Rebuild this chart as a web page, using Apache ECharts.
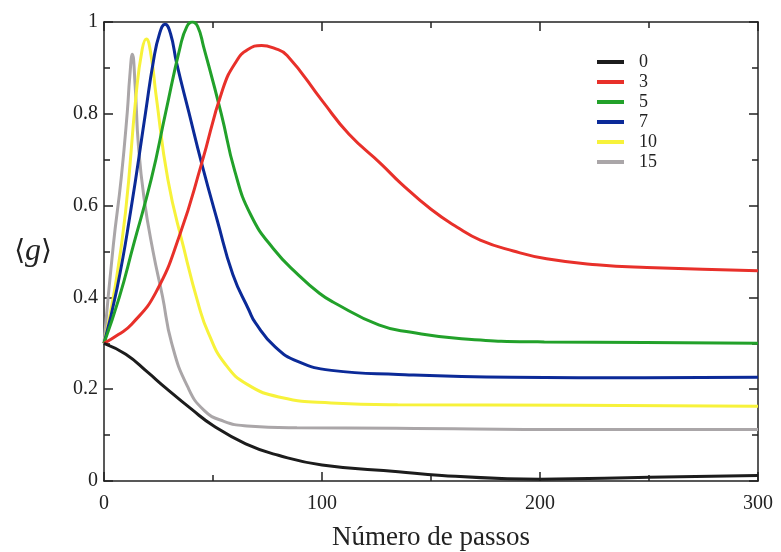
<!DOCTYPE html>
<html lang="pt">
<head>
	<meta charset="UTF-8">
	<title>g vs passos</title>
	<style>
	body, div {
		margin: 0;
		padding: 0;
		background: #fff;
	}
	#chart {
		width: 781px;
		height: 552px;
	}
	</style>
</head>
<body>
	<div id="chart"></div>

	<script src="https://cdn.jsdelivr.net/npm/echarts@6/dist/echarts.min.js"></script>

	<script>
	// curve names (legend) and colours
	var names = ['0', '3', '5', '7', '10', '15'];
	var colors = ['#1c1c1c', '#e8302a', '#22a12a', '#0b2a98', '#f7f23a', '#aaa6a8'];

	// x ticks / y ticks
	var xTicks = [0, 100, 200, 300];
	var yTicks = [0, 0.2, 0.4, 0.6, 0.8, 1];

	// values, one pair of arrays per curve
	var x0 = [0, 10, 20, 28, 40, 50, 65, 80, 100, 135, 155, 185, 200, 250, 300];
	var g0 = [0.3, 0.276, 0.237, 0.204, 0.157, 0.121, 0.081, 0.056, 0.035, 0.02, 0.012, 0.005, 0.004, 0.008, 0.012];

	var x3 = [0, 6.6, 12.8, 23.8, 35, 44.8, 54.5, 60.8, 66, 72.3, 78, 84, 100.3, 112.3, 127.3, 136.3, 150, 162, 172.6, 187.8, 203, 226, 249, 300];
	var g3 = [0.3, 0.319, 0.342, 0.411, 0.54, 0.692, 0.854, 0.915, 0.94, 0.949, 0.943, 0.927, 0.827, 0.756, 0.69, 0.648, 0.592, 0.553, 0.525, 0.501, 0.484, 0.471, 0.465, 0.458];

	var x5 = [0, 7, 13.5, 21.7, 28.3, 35, 38, 40.5, 43, 45.7, 53.8, 60, 67.3, 77.7, 89.6, 98.8, 105, 126, 141, 164, 202, 248, 300];
	var g5 = [0.3, 0.4, 0.514, 0.658, 0.803, 0.947, 0.99, 1.0, 0.99, 0.946, 0.8, 0.675, 0.58, 0.506, 0.447, 0.409, 0.39, 0.34, 0.324, 0.31, 0.303, 0.302, 0.3];

	var x7 = [0, 6, 12.2, 19.1, 22.6, 25.5, 28, 30.5, 33.3, 39, 44.8, 52, 59.1, 66.5, 69.4, 78.5, 89.1, 104.3, 135, 187, 248, 300];
	var g7 = [0.3, 0.42, 0.587, 0.804, 0.913, 0.975, 0.995, 0.975, 0.911, 0.802, 0.692, 0.567, 0.45, 0.372, 0.345, 0.292, 0.26, 0.241, 0.232, 0.226, 0.225, 0.226];

	var x10 = [0, 5, 9.9, 14.7, 17.5, 19.4, 21.5, 23.9, 29.3, 36.4, 43.6, 48, 55.4, 65.9, 81.3, 104.2, 134.7, 217, 300];
	var g10 = [0.3, 0.42, 0.587, 0.84, 0.94, 0.963, 0.93, 0.84, 0.657, 0.511, 0.38, 0.321, 0.256, 0.21, 0.182, 0.17, 0.166, 0.165, 0.163];

	var x15 = [0, 4.3, 7.9, 10.7, 11.8, 13, 14.3, 15.8, 18.4, 22.5, 26.8, 31, 38.3, 45.9, 55, 65.6, 88.5, 134, 217, 300];
	var g15 = [0.3, 0.515, 0.66, 0.805, 0.88, 0.93, 0.86, 0.73, 0.615, 0.5, 0.403, 0.301, 0.206, 0.154, 0.13, 0.12, 0.116, 0.115, 0.112, 0.112];

	var xs = [x0, x3, x5, x7, x10, x15];
	var gs = [g0, g3, g5, g7, g10, g15];

	var serif = 'Liberation Serif';

	function pairs(xa, ya) {
		var out = [];
		for (var i = 0; i < xa.length; i++) {
			out.push([xa[i], ya[i]]);
		}
		return out;
	}

	var series = [];
	for (var i = 0; i < names.length; i++) {
		series.push({
			name: names[i],
			type: 'line',
			smooth: 0.5,
			showSymbol: false,
			symbol: 'none',
			data: pairs(xs[i], gs[i]),
			lineStyle: { color: colors[i], width: 3 },
			itemStyle: { color: colors[i] },
			z: 10 - i
		});
	}

	var tick = { inside: true, length: 9, lineStyle: { color: '#222', width: 1.5 } };
	var minor = { show: true, splitNumber: 2, length: 6, lineStyle: { color: '#222', width: 1.5 } };
	var frame = { show: true, onZero: false, lineStyle: { color: '#222', width: 1.5 } };

	var myChart = echarts.init(document.getElementById('chart'));

	var option = {
		backgroundColor: '#fff',
		animation: false,
		grid: {
			left: 104,
			right: 23,
			top: 22,
			bottom: 71,
			outerBoundsMode: 'none'
		},
		legend: {
			orient: 'vertical',
			left: 597,
			top: 53,
			padding: 0,
			itemGap: 2,
			itemWidth: 27,
			itemHeight: 4,
			icon: 'rect',
			data: names,
			textStyle: { fontFamily: serif, fontSize: 18, color: '#222', padding: [0, 0, 0, 10] }
		},
		xAxis: [
			{
				type: 'value',
				min: xTicks[0],
				max: xTicks[xTicks.length - 1],
				interval: 100,
				name: 'Número de passos',
				nameLocation: 'middle',
				nameGap: 43,
				nameTextStyle: { fontFamily: serif, fontSize: 27, color: '#222' },
				axisLine: frame,
				axisTick: tick,
				minorTick: minor,
				axisLabel: { fontFamily: serif, fontSize: 20, color: '#222', margin: 13 },
				splitLine: { show: false }
			},
			{
				type: 'value',
				position: 'top',
				min: xTicks[0],
				max: xTicks[xTicks.length - 1],
				interval: 100,
				axisLine: frame,
				axisTick: tick,
				minorTick: minor,
				axisLabel: { show: false },
				splitLine: { show: false }
			}
		],
		yAxis: [
			{
				type: 'value',
				min: yTicks[0],
				max: yTicks[yTicks.length - 1],
				interval: 0.2,
				name: '{a|⟨}{b|g}{a|⟩}',
				nameLocation: 'middle',
				nameRotate: 0,
				nameGap: 52,
				nameTextStyle: {
					rich: {
						a: { fontFamily: 'DejaVu Serif', fontSize: 28, color: '#222' },
						b: { fontFamily: serif, fontStyle: 'italic', fontSize: 32, color: '#222' }
					}
				},
				axisLine: frame,
				axisTick: tick,
				minorTick: minor,
				axisLabel: { fontFamily: serif, fontSize: 20, color: '#222', margin: 6 },
				splitLine: { show: false }
			},
			{
				type: 'value',
				position: 'right',
				min: yTicks[0],
				max: yTicks[yTicks.length - 1],
				interval: 0.2,
				axisLine: frame,
				axisTick: tick,
				minorTick: minor,
				axisLabel: { show: false },
				splitLine: { show: false }
			}
		],
		series: series
	};

	myChart.setOption(option);
	</script>
</body>
</html>
